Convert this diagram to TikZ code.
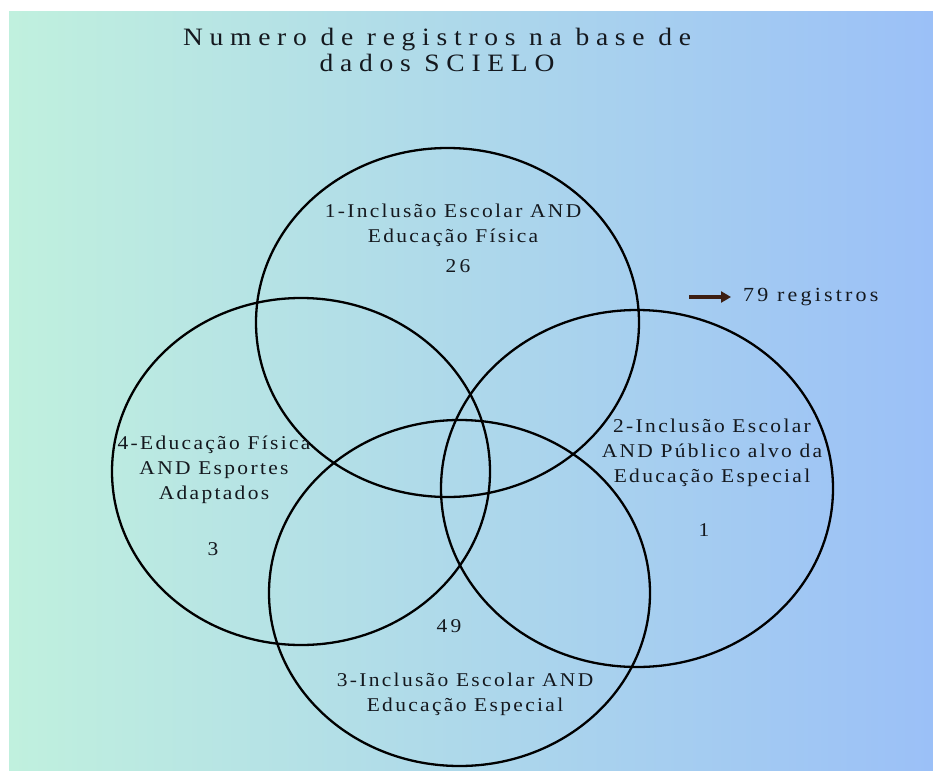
\documentclass[tikz,border=0pt]{standalone}
\usepackage{fontspec}
\setmainfont{Liberation Serif}
\newfontfamily\titlefont[LetterSpace=27,FakeStretch=1.1]{Liberation Serif}
\newfontfamily\labelfont[LetterSpace=12,FakeStretch=1.1]{Liberation Serif}
\newfontfamily\numfont[LetterSpace=16,FakeStretch=1.1]{Liberation Serif}
\usetikzlibrary{arrows.meta}
\definecolor{bgleft}{RGB}{192,240,222}
\definecolor{bgright}{RGB}{155,192,247}
\definecolor{ink}{RGB}{20,24,30}
\definecolor{arrowbrown}{RGB}{60,30,18}
\begin{document}
\begin{tikzpicture}[x=1pt,y=-1pt,
  venn/.style={draw=black,line width=2.3pt},
  titletext/.style={inner sep=0pt,align=center,text=ink,font=\titlefont\fontsize{25}{26}\selectfont},
  lbl/.style={inner sep=0pt,align=center,text=ink,font=\labelfont\fontsize{19.5}{25}\selectfont},
  num/.style={inner sep=0pt,text=ink,font=\numfont\fontsize{19.5}{22}\selectfont},
  regtext/.style={inner sep=0pt,anchor=west,text=ink,font=\numfont\fontsize{20}{22}\selectfont},
  pointer/.style={draw=arrowbrown,line width=3.3pt,-{Triangle[length=10pt,width=11pt]}}
]
\useasboundingbox (0,0) rectangle (933,770);
\fill[white] (0,0) rectangle (933,770);
\shade[left color=bgleft,right color=bgright] (9,12) rectangle (933,770);

% title
\node[titletext] (title) at (437,50) {Numero de registros na base de\\dados SCIELO};

% sets
\draw[venn] (447.5,322.5) ellipse [x radius=191.5pt, y radius=174.5pt];
\draw[venn] (637,488.5) ellipse [x radius=196pt, y radius=178.5pt];
\draw[venn] (459.5,593) ellipse [x radius=190.5pt, y radius=173pt];
\draw[venn] (301,471.5) ellipse [x radius=189pt, y radius=173.5pt];

% labels
\node[lbl] (lab1) at (453,225) {1-Inclusão Escolar AND\\Educação Física};
\node[num] (n1) at (458,266) {26};
\node[lbl] (lab2) at (712,453) {2-Inclusão Escolar\\AND Público alvo da\\Educação Especial};
\node[num] (n2) at (704,530) {1};
\node[lbl] (lab3) at (465,694) {3-Inclusão Escolar AND\\Educação Especial};
\node[num] (n3) at (449,626) {49};
\node[lbl] (lab4) at (214,470) {4-Educação Física\\AND Esportes\\Adaptados};
\node[num] (n4) at (213,549) {3};

% total
\node[regtext] (reg) at (743,297) {79 registros};
\coordinate (arrowstart) at (689,297);
\draw[pointer] (arrowstart) -- ([xshift=-12pt]reg.west);
\end{tikzpicture}
\end{document}
